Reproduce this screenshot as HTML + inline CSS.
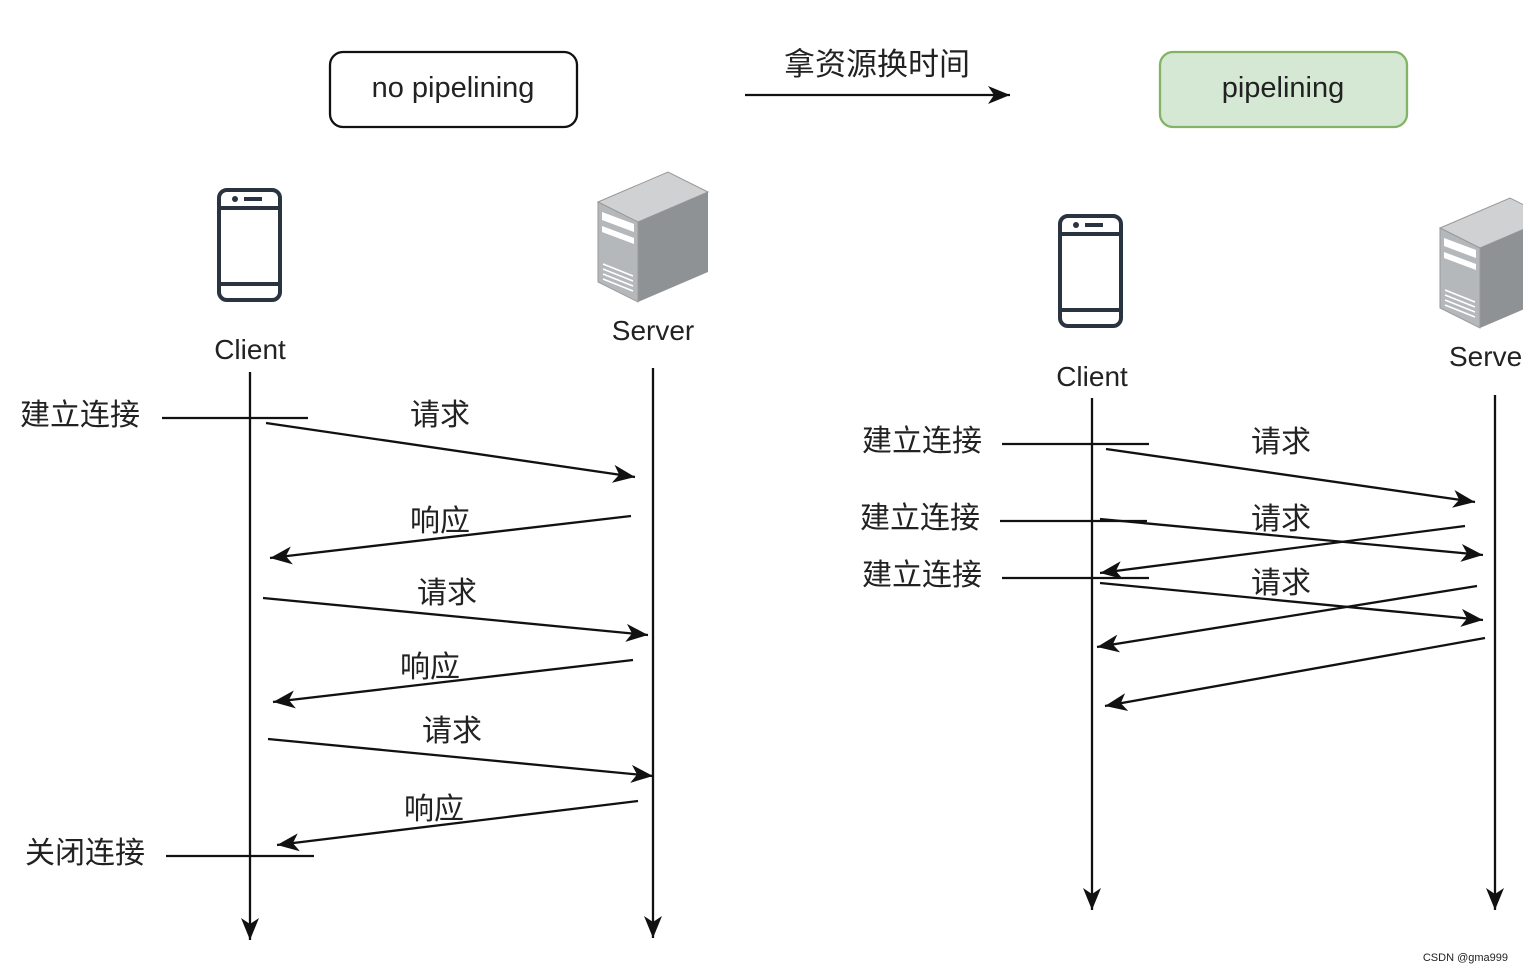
<!DOCTYPE html>
<html><head><meta charset="utf-8"><style>
html,body{margin:0;padding:0;background:#fff;overflow:hidden}
text{font-family:"Liberation Sans","Noto Sans CJK SC",sans-serif;fill:#222}
</style></head><body>
<svg width="1523" height="973" viewBox="0 0 1523 973" xmlns="http://www.w3.org/2000/svg">
<defs>
<marker id="a" markerWidth="24" markerHeight="20" refX="22" refY="10" orient="auto" markerUnits="userSpaceOnUse">
<path d="M0,1 L22,10 L0,19 L6,10 Z" fill="#111"/>
</marker>
<g id="phone">
<rect x="2" y="2" width="61" height="110" rx="8" fill="#fff" stroke="#2a3340" stroke-width="4"/>
<line x1="2" y1="20" x2="63" y2="20" stroke="#2a3340" stroke-width="4"/>
<line x1="2" y1="96" x2="63" y2="96" stroke="#2a3340" stroke-width="4"/>
<circle cx="18" cy="11" r="3" fill="#2a3340"/>
<line x1="27" y1="11" x2="45" y2="11" stroke="#2a3340" stroke-width="4"/>
</g>
<g id="srv">
<polygon points="0,30 70,0 110,20 40,50" fill="#cfd1d3" stroke="#999"/>
<polygon points="40,50 110,20 110,100 40,130" fill="#8f9294"/>
<polygon points="0,30 40,50 40,130 0,110" fill="#b5b8ba" stroke="#999"/>
<polygon points="4,40 36,52 36,60 4,48" fill="#fff"/>
<polygon points="4,54 36,66 36,72 4,60" fill="#fff"/>
<g stroke="#fff" stroke-width="1.5"><line x1="5" y1="92" x2="35" y2="104"/><line x1="5" y1="97" x2="35" y2="109"/><line x1="5" y1="102" x2="35" y2="114"/><line x1="5" y1="107" x2="35" y2="119"/></g>
</g>
</defs>
<g stroke="#111" stroke-width="2.3" fill="none">
<rect x="330" y="52" width="247" height="75" rx="13"/>
<line x1="745" y1="95" x2="1010" y2="95" marker-end="url(#a)"/>
</g>
<rect x="1160" y="52" width="247" height="75" rx="13" fill="#d5e8d4" stroke="#82b366" stroke-width="2.3"/>
<text x="453" y="97" font-size="29" text-anchor="middle">no pipelining</text>
<text x="1283" y="97" font-size="29" text-anchor="middle">pipelining</text>
<text x="877" y="75" font-size="31" text-anchor="middle">拿资源换时间</text>

<use href="#phone" x="217" y="188"/>
<use href="#srv" x="598" y="172"/>
<use href="#phone" x="1058" y="214"/>
<use href="#srv" x="1440" y="198"/>
<text x="250" y="359" font-size="28" text-anchor="middle" fill="#333">Client</text>
<text x="653" y="340" font-size="28" text-anchor="middle" fill="#333">Server</text>
<text x="1092" y="386" font-size="28" text-anchor="middle" fill="#333">Client</text>
<text x="1449" y="366" font-size="28" fill="#333">Server</text>

<g stroke="#111" stroke-width="2.3" fill="none">
<line x1="250" y1="372" x2="250" y2="940" marker-end="url(#a)"/>
<line x1="653" y1="368" x2="653" y2="938" marker-end="url(#a)"/>
<line x1="162" y1="418" x2="308" y2="418"/>
<line x1="266" y1="423" x2="635" y2="477" marker-end="url(#a)"/>
<line x1="631" y1="516" x2="270" y2="558" marker-end="url(#a)"/>
<line x1="263" y1="598" x2="648" y2="635" marker-end="url(#a)"/>
<line x1="633" y1="660" x2="273" y2="702" marker-end="url(#a)"/>
<line x1="268" y1="739" x2="653" y2="776" marker-end="url(#a)"/>
<line x1="638" y1="801" x2="277" y2="845" marker-end="url(#a)"/>
<line x1="166" y1="856" x2="314" y2="856"/>

<line x1="1092" y1="398" x2="1092" y2="910" marker-end="url(#a)"/>
<line x1="1495" y1="395" x2="1495" y2="910" marker-end="url(#a)"/>
<line x1="1002" y1="444" x2="1149" y2="444"/>
<line x1="1106" y1="449" x2="1475" y2="502" marker-end="url(#a)"/>
<line x1="1000" y1="521" x2="1147" y2="521"/>
<line x1="1100" y1="519" x2="1483" y2="555" marker-end="url(#a)"/>
<line x1="1465" y1="526" x2="1100" y2="573" marker-end="url(#a)"/>
<line x1="1002" y1="578" x2="1149" y2="578"/>
<line x1="1100" y1="583" x2="1483" y2="620" marker-end="url(#a)"/>
<line x1="1477" y1="586" x2="1097" y2="647" marker-end="url(#a)"/>
<line x1="1485" y1="638" x2="1105" y2="706" marker-end="url(#a)"/>
</g>
<g font-size="30">
<text x="20" y="425">建立连接</text>
<text x="25" y="863">关闭连接</text>
<text x="440" y="425" text-anchor="middle">请求</text>
<text x="440" y="531" text-anchor="middle">响应</text>
<text x="447" y="603" text-anchor="middle">请求</text>
<text x="430" y="677" text-anchor="middle">响应</text>
<text x="452" y="741" text-anchor="middle">请求</text>
<text x="434" y="819" text-anchor="middle">响应</text>
<text x="862" y="451">建立连接</text>
<text x="860" y="528">建立连接</text>
<text x="862" y="585">建立连接</text>
<text x="1281" y="452" text-anchor="middle">请求</text>
<text x="1281" y="529" text-anchor="middle">请求</text>
<text x="1281" y="593" text-anchor="middle">请求</text>
</g>
<text x="1508" y="961" font-size="11" text-anchor="end" fill="#888">CSDN @gma999</text>
</svg>
</body></html>
